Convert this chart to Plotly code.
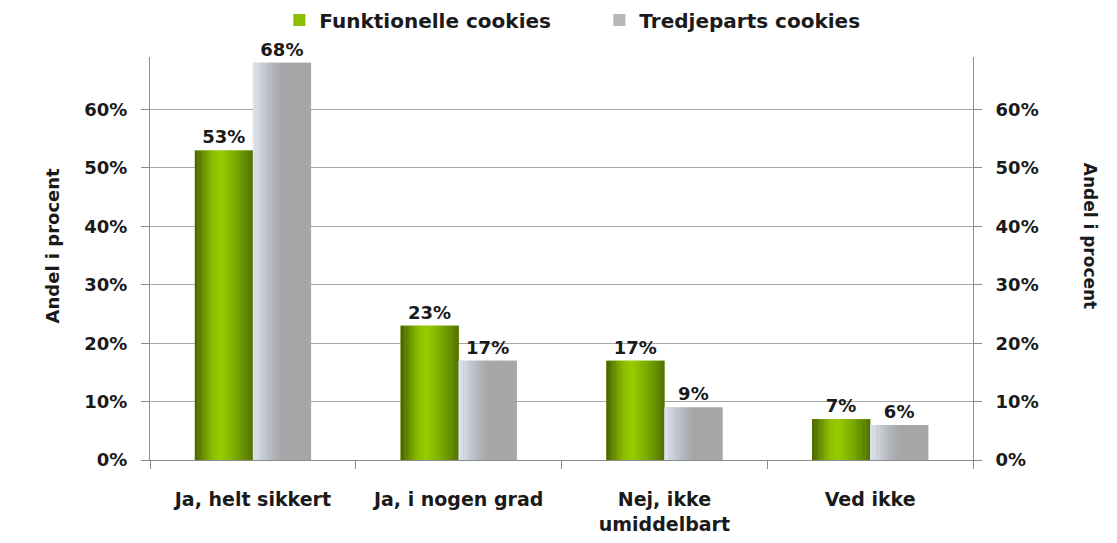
import plotly.graph_objects as go

categories = ["Ja, helt sikkert", "Ja, i nogen grad", "Nej, ikke<br>umiddelbart", "Ved ikke"]
funktionelle = [53, 23, 17, 7]
tredjeparts = [68, 17, 9, 6]
series_names = ["Funktionelle cookies", "Tredjeparts cookies"]
tick_vals = [0, 10, 20, 30, 40, 50, 60]
tick_text = ["0%", "10%", "20%", "30%", "40%", "50%", "60%"]

FONT = "DejaVu Sans"
TXT = "#1a1a1a"
BAR_W = 0.282
N_STRIPS = 24

# colour stops (position 0..1 across the bar, rgb)
green_stops = [(0.0, (70, 98, 0)), (0.3, (140, 190, 0)), (0.45, (153, 204, 0)),
               (0.7, (120, 170, 0)), (1.0, (80, 112, 0))]
gray_stops = [(0.0, (224, 230, 240)), (0.35, (176, 180, 186)), (0.5, (166, 166, 166)),
              (1.0, (166, 166, 166))]


def interp(stops, t):
    for (p0, c0), (p1, c1) in zip(stops, stops[1:]):
        if p0 <= t <= p1:
            f = (t - p0) / (p1 - p0) if p1 > p0 else 0
            return "rgb(%d,%d,%d)" % tuple(round(a + (b - a) * f) for a, b in zip(c0, c1))
    return "rgb(%d,%d,%d)" % stops[-1][1]


fig = go.Figure()

for name, vals, stops, off, mid in [
    (series_names[0], funktionelle, green_stops, -BAR_W, "#8cbf00"),
    (series_names[1], tredjeparts, gray_stops, 0.0, "#b4b6ba"),
]:
    # base bar carries legend and labels
    fig.add_trace(go.Bar(
        x=categories, y=vals, name=name, width=BAR_W, offset=off,
        marker=dict(color=mid, line=dict(width=0)),
        text=[f"{v}%" for v in vals], texttemplate="%{text}", textposition="outside",
        textfont=dict(family=FONT, size=18, color=TXT, weight="bold"),
        cliponaxis=False,
    ))
    # strips to fake the gradient
    sw = BAR_W / N_STRIPS
    for i in range(N_STRIPS):
        fig.add_trace(go.Bar(
            x=categories, y=vals, width=sw * 1.08, offset=off + i * sw,
            marker=dict(color=interp(stops, (i + 0.5) / N_STRIPS), line=dict(width=0)),
            showlegend=False, hoverinfo="skip",
        ))

# invisible trace so the right axis gets drawn
fig.add_trace(go.Scatter(x=categories, y=funktionelle, yaxis="y2", mode="markers",
                         marker=dict(opacity=0), showlegend=False, hoverinfo="skip"))

axis_common = dict(
    range=[0, 69], tickvals=tick_vals, ticktext=tick_text,
    ticks="outside", ticklen=8, tickcolor="#8c8c8c",
    showline=True, linecolor="#8c8c8c", linewidth=1,
    tickfont=dict(family=FONT, size=18, color=TXT, weight="bold"),
    ticklabelstandoff=10,
    zeroline=False, automargin=False,
)

# page body adds 8px margin, so the figure is 16px smaller than the window
fig.update_layout(
    width=1101, height=527,
    margin=dict(l=142, r=136, t=49, b=75, autoexpand=False),
    plot_bgcolor="white", paper_bgcolor="white",
    barmode="overlay", bargap=0.4,
    font=dict(family=FONT, color=TXT),
    legend=dict(orientation="h", x=0.546, xanchor="center", y=1.092,
                yanchor="middle",
                font=dict(family=FONT, size=20, color=TXT, weight="bold"),
                itemwidth=30, entrywidth=275, traceorder="normal"),
    xaxis=dict(
        showline=True, linecolor="#8c8c8c", linewidth=1,
        ticks="outside", ticklen=8, tickcolor="#8c8c8c", tickson="boundaries",
        tickfont=dict(family=FONT, size=19, color=TXT, weight="bold"),
        ticklabelstandoff=22, automargin=False,
    ),
    yaxis=dict(**axis_common, showgrid=True, gridcolor="#a6a6a6", gridwidth=1),
    yaxis2=dict(**axis_common, overlaying="y", side="right", showgrid=False),
    annotations=[
        dict(text="Andel i procent", xref="paper", yref="paper", x=-0.134, y=0.533,
             textangle=-90, showarrow=False,
             font=dict(family=FONT, size=18, color=TXT, weight=600)),
        dict(text="Andel i procent", xref="paper", yref="paper", x=1.157, y=0.556,
             textangle=90, showarrow=False,
             font=dict(family=FONT, size=17, color=TXT, weight=600)),
    ],
)

fig.write_html("out.html")
